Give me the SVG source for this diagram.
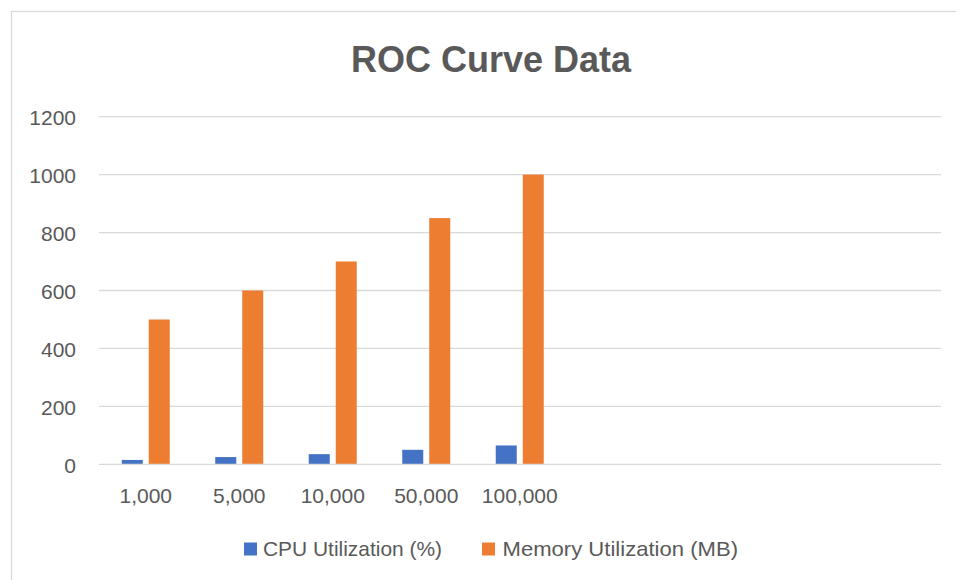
<svg xmlns="http://www.w3.org/2000/svg" width="956" height="580" viewBox="0 0 956 580">
<style>
.grid{stroke:#d9d9d9;stroke-width:1.3;fill:none}
.lbl{font-family:"Liberation Sans",Arial,sans-serif;font-size:21px;fill:#595959}
.ylbl{text-anchor:end}
.xlbl{text-anchor:middle}
.cpu{fill:#4472c4}
.mem{fill:#ed7d31}
</style>
<rect x="0" y="0" width="956" height="580" fill="#ffffff"/>
<rect id="chart-border" x="11.5" y="11.5" width="960" height="600" fill="#ffffff" stroke="#d9d9d9" stroke-width="1.3"/>
<text id="title" x="491" y="72" text-anchor="middle" style="font-family:'Liberation Sans',Arial,sans-serif;font-size:36px;font-weight:bold;fill:#595959">ROC Curve Data</text>
<g id="gridlines">
<line class="grid" x1="99" y1="116.7" x2="941" y2="116.7"/>
<line class="grid" x1="99" y1="174.6" x2="941" y2="174.6"/>
<line class="grid" x1="99" y1="232.6" x2="941" y2="232.6"/>
<line class="grid" x1="99" y1="290.5" x2="941" y2="290.5"/>
<line class="grid" x1="99" y1="348.4" x2="941" y2="348.4"/>
<line class="grid" x1="99" y1="406.4" x2="941" y2="406.4"/>
</g>
<g id="y-axis-labels" class="lbl ylbl">
<text x="76" y="125">1200</text>
<text x="76" y="183">1000</text>
<text x="76" y="241">800</text>
<text x="76" y="299">600</text>
<text x="76" y="357">400</text>
<text x="76" y="415">200</text>
<text x="76" y="472.5">0</text>
</g>
<g id="series-cpu">
<rect class="cpu" x="121.75" y="459.95" width="21" height="4.35"/>
<rect class="cpu" x="215.25" y="457.06" width="21" height="7.24"/>
<rect class="cpu" x="308.75" y="454.16" width="21" height="10.14"/>
<rect class="cpu" x="402.25" y="449.82" width="21" height="14.48"/>
<rect class="cpu" x="495.75" y="445.47" width="21" height="18.83"/>
</g>
<g id="series-memory">
<rect class="mem" x="148.75" y="319.5" width="21" height="144.8"/>
<rect class="mem" x="242.25" y="290.5" width="21" height="173.8"/>
<rect class="mem" x="335.75" y="261.5" width="21" height="202.8"/>
<rect class="mem" x="429.25" y="218.1" width="21" height="246.2"/>
<rect class="mem" x="522.75" y="174.6" width="21" height="289.7"/>
</g>
<line id="x-axis" class="grid" x1="99" y1="464.3" x2="941" y2="464.3"/>
<g id="x-axis-labels" class="lbl xlbl">
<text x="145.75" y="503">1,000</text>
<text x="239.25" y="503">5,000</text>
<text x="332.75" y="503">10,000</text>
<text x="426.25" y="503">50,000</text>
<text x="519.75" y="503">100,000</text>
</g>
<g id="legend">
<g id="legend-cpu">
<rect class="cpu" x="244" y="542.5" width="13" height="13"/>
<text class="lbl" x="263" y="556" textLength="179" lengthAdjust="spacingAndGlyphs">CPU Utilization (%)</text>
</g>
<g id="legend-memory">
<rect class="mem" x="482" y="542.5" width="13" height="13"/>
<text class="lbl" x="502.5" y="556" textLength="235.5" lengthAdjust="spacingAndGlyphs">Memory Utilization (MB)</text>
</g>
</g>
</svg>
